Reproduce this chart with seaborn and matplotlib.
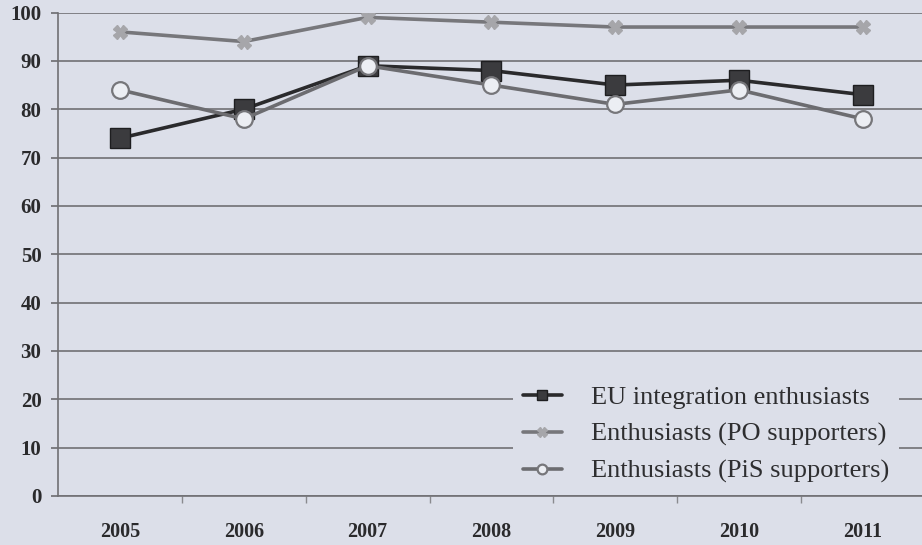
import matplotlib
matplotlib.use("Agg")
import matplotlib.pyplot as plt
from matplotlib.ticker import MultipleLocator
import seaborn as sns
import pandas as pd

years = [2005, 2006, 2007, 2008, 2009, 2010, 2011]
eu_enthusiasts = [74, 80, 89, 88, 85, 86, 83]
po_supporters = [96, 94, 99, 98, 97, 97, 97]
pis_supporters = [84, 78, 89, 85, 81, 84, 78]
series_names = ["EU integration enthusiasts",
                "Enthusiasts (PO supporters)",
                "Enthusiasts (PiS supporters)"]

df = pd.DataFrame({
    "year": years * 3,
    "value": eu_enthusiasts + po_supporters + pis_supporters,
    "series": [s for s in series_names for _ in years],
})

bg = "#dcdfe9"
sns.set_theme(style="white")
plt.rcParams["font.family"] = ["Liberation Serif", "DejaVu Serif"]

fig = plt.figure(figsize=(9.22, 5.45), dpi=100, facecolor=bg)
ax = fig.add_axes([0.063, 0.09, 0.94, 0.887])
ax.set_facecolor(bg)

# gridlines under the data
ax.set_axisbelow(True)
ax.yaxis.grid(True, color="#707074", lw=1.2)

palette = {series_names[0]: "#2a2a2c",
           series_names[1]: "#77777b",
           series_names[2]: "#6c6c70"}
markers = {series_names[0]: "s", series_names[1]: "X", series_names[2]: "o"}

sns.lineplot(data=df, x="year", y="value", hue="series", style="series",
             palette=palette, markers=markers, dashes=False, lw=2.6,
             markersize=13, ax=ax, legend=True)

# look of each series' markers (same for plot and legend)
marker_style = {
    series_names[0]: dict(mfc="#3b3b3e", mec="#1e1e20", mew=1.0),
    series_names[1]: dict(mfc="#a6a6aa", mec="#a6a6aa", mew=1.0),
    series_names[2]: dict(mfc="#eceef3", mec="#76767a", mew=1.6),
}
plot_sizes = {series_names[0]: 14, series_names[1]: 10, series_names[2]: 12}

def style_line(line, name, size):
    st = marker_style[name]
    line.set_markerfacecolor(st["mfc"])
    line.set_markeredgecolor(st["mec"])
    line.set_markeredgewidth(st["mew"])
    line.set_markersize(size)

for line, name in zip(ax.lines, series_names):
    style_line(line, name, plot_sizes[name])

ax.set_xlim(2004.5, 2011.5)
ax.set_ylim(0, 100)
ax.yaxis.set_major_locator(MultipleLocator(10))
ax.set_xticks(years)
ax.set_xticks([y + 0.5 for y in years[:-1]], minor=True)
ax.tick_params(axis="x", which="major", length=0, pad=19)
ax.tick_params(axis="x", which="minor", length=5, color="#8a8a8e", direction="out", bottom=True)
ax.tick_params(axis="y", length=5, color="#707074", direction="out", left=True, pad=7)
for lbl in ax.get_xticklabels() + ax.get_yticklabels():
    lbl.set_fontweight("bold")
    lbl.set_color("#2a2a2c")
for lbl in ax.get_xticklabels():
    lbl.set_fontsize(14.5)
for lbl in ax.get_yticklabels():
    lbl.set_fontsize(15)
ax.set_xlabel("")
ax.set_ylabel("")

for side in ["top", "right"]:
    ax.spines[side].set_visible(False)
for side in ["left", "bottom"]:
    ax.spines[side].set_color("#707074")
    ax.spines[side].set_linewidth(1.2)

handles, labels = ax.get_legend_handles_labels()
for h, name in zip(handles, labels):
    style_line(h, name, 7)
    h.set_linewidth(2.6)
leg = ax.legend(handles, labels, loc="lower right", bbox_to_anchor=(0.97, 0.007),
                frameon=True, facecolor=bg, edgecolor=bg, framealpha=1,
                fontsize=19, handlelength=1.5, handletextpad=1.1,
                labelspacing=0.5, borderpad=0.35, borderaxespad=0.0)
leg.get_frame().set_linewidth(0)
for t in leg.get_texts():
    t.set_color("#2e2e30")

fig.savefig("out.png", dpi=100, facecolor=bg)
